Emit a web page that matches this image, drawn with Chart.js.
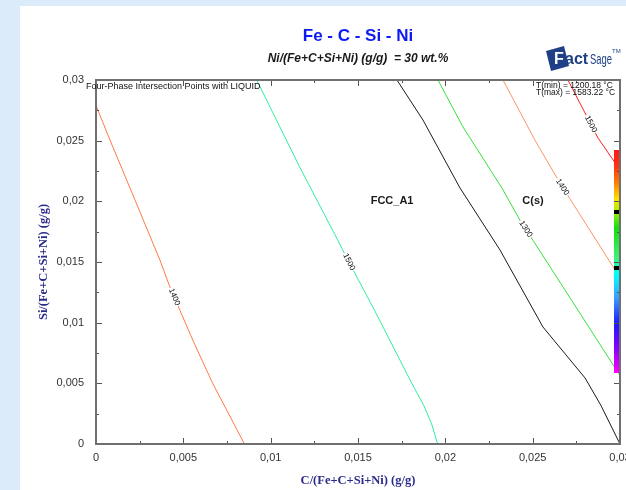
<!DOCTYPE html>
<html>
<head>
<meta charset="utf-8">
<script src="https://cdn.jsdelivr.net/npm/chart.js@4.4.0/dist/chart.umd.min.js"></script>
<style>
html, body { margin: 0; padding: 0; overflow: hidden; width: 626px; height: 490px; background: #dcebf9; }
#panel { position: absolute; left: 20px; top: 6px; width: 700px; height: 600px; background: #fff; }
#c { position: absolute; left: 0; top: 0; }
</style>
</head>
<body>
<div id="panel"></div>
<canvas id="c" width="660" height="490"></canvas>
<script>
// isotherms, C and Si mass fractions (g/g)
var iso1400aC  = [0, 0.0008, 0.00171, 0.00366, 0.00423, 0.00554, 0.00668, 0.0085];
var iso1400aSi = [0.0279, 0.02505, 0.02192, 0.01516, 0.01294, 0.00857, 0.005, 0];

var iso1500aC  = [0.0092, 0.01166, 0.01354, 0.01463, 0.01594, 0.01808, 0.01876, 0.01921, 0.01956];
var iso1500aSi = [0.03, 0.02283, 0.01764, 0.01459, 0.01104, 0.005, 0.0032, 0.00167, 0];

// FCC_A1 / C(s) boundary
var boundC  = [0.01723, 0.01872, 0.02084, 0.02313, 0.02559, 0.028, 0.0289, 0.03];
var boundSi = [0.03, 0.0267, 0.0211, 0.01599, 0.00964, 0.00544, 0.0032, 0];

var iso1300C  = [0.01958, 0.02101, 0.02324, 0.02427, 0.02943, 0.03];
var iso1300Si = [0.03, 0.02613, 0.0211, 0.01846, 0.00692, 0.00564];

var iso1400bC  = [0.0233, 0.02513, 0.02656, 0.02983, 0.03];
var iso1400bSi = [0.03, 0.02505, 0.02151, 0.01409, 0.01371];

var iso1500bC  = [0.02702, 0.02874, 0.03];
var iso1500bSi = [0.03, 0.02522, 0.02258];

// contour labels: text, position, line they sit on
var labelText = ['1400', '1500', '1300', '1400', '1500'];
var labelC    = [0.00448, 0.01448, 0.0246, 0.0267, 0.02833];
var labelSi   = [0.01212, 0.015, 0.01772, 0.02118, 0.02637];
var labelLine = [0, 1, 3, 4, 5];

// phase field names
var fieldText = ['FCC_A1', 'C(s)'];
var fieldC    = [0.01695, 0.02502];
var fieldSi   = [0.02003, 0.02003];

var axisTicks = [0, 0.005, 0.01, 0.015, 0.02, 0.025, 0.03];

function pts(cs, ss) {
    return cs.map(function (c, i) { return {x: c, y: ss[i]}; });
}

function fmt(v) {
    return parseFloat(Number(v).toFixed(4)).toString().replace('.', ',');
}

var lines = [
    {data: pts(iso1400aC, iso1400aSi), color: '#ff7a45'},
    {data: pts(iso1500aC, iso1500aSi), color: '#30ee9c'},
    {data: pts(boundC, boundSi), color: '#1a1a1a'},
    {data: pts(iso1300C, iso1300Si), color: '#38e038'},
    {data: pts(iso1400bC, iso1400bSi), color: '#ff9363'},
    {data: pts(iso1500bC, iso1500bSi), color: '#ff2020'}
];

var decor = {
    id: 'decor',
    afterDatasetsDraw: function (chart) {
        var ctx = chart.ctx, a = chart.chartArea;
        var xs = chart.scales.x, ys = chart.scales.y;
        ctx.save();

        // temperature colour bar
        var bx = a.right - 6, bt = a.top + 70, bb = a.top + 293;
        var g = ctx.createLinearGradient(0, bt, 0, bb);
        g.addColorStop(0, '#ff1a1a');
        g.addColorStop(0.07, '#ff3010');
        g.addColorStop(0.15, '#ff8000');
        g.addColorStop(0.22, '#ffe000');
        g.addColorStop(0.27, '#b0f000');
        g.addColorStop(0.35, '#10e010');
        g.addColorStop(0.48, '#40f070');
        g.addColorStop(0.56, '#00ffff');
        g.addColorStop(0.66, '#3aa0ff');
        g.addColorStop(0.78, '#1a1aff');
        g.addColorStop(0.89, '#8a00ff');
        g.addColorStop(1, '#ff00ff');
        ctx.fillStyle = g;
        ctx.fillRect(bx, bt, 5, bb - bt);
        ctx.fillStyle = '#000';
        ctx.fillRect(bx, a.top + 130, 5, 4);
        ctx.fillRect(bx, a.top + 186, 5, 4);

        // contour labels, turned along their line
        ctx.font = '8px "Liberation Sans", Arial, sans-serif';
        ctx.textAlign = 'center';
        ctx.textBaseline = 'middle';
        labelText.forEach(function (t, i) {
            var px = xs.getPixelForValue(labelC[i]);
            var py = ys.getPixelForValue(labelSi[i]);
            var d = lines[labelLine[i]].data, ang = 1.15;
            for (var k = 0; k < d.length - 1; k++) {
                if (labelSi[i] <= d[k].y && labelSi[i] >= d[k + 1].y) {
                    var dx = xs.getPixelForValue(d[k + 1].x) - xs.getPixelForValue(d[k].x);
                    var dy = ys.getPixelForValue(d[k + 1].y) - ys.getPixelForValue(d[k].y);
                    ang = Math.atan2(dy, dx);
                    break;
                }
            }
            var w = ctx.measureText(t).width;
            ctx.save();
            ctx.translate(px, py);
            ctx.rotate(ang);
            ctx.fillStyle = '#fff';
            ctx.fillRect(-w / 2 - 1, -4, w + 2, 8);
            ctx.fillStyle = '#111';
            ctx.fillText(t, 0, 0);
            ctx.restore();
        });

        // phase fields
        ctx.font = 'bold 11px "Liberation Sans", Arial, sans-serif';
        ctx.fillStyle = '#1a1a1a';
        fieldText.forEach(function (t, i) {
            ctx.fillText(t, xs.getPixelForValue(fieldC[i]), ys.getPixelForValue(fieldSi[i]));
        });

        // frame and inward ticks
        ctx.strokeStyle = '#555';
        ctx.lineWidth = 1;
        ctx.beginPath();
        for (var k = 0; k <= 12; k++) {
            var v = k * 0.0025, len = k % 2 === 0 ? 6 : 3;
            var px = Math.round(xs.getPixelForValue(v)) + 0.5;
            var py = Math.round(ys.getPixelForValue(v)) + 0.5;
            ctx.moveTo(px, a.bottom); ctx.lineTo(px, a.bottom - len);
            ctx.moveTo(px, a.top); ctx.lineTo(px, a.top + len);
            ctx.moveTo(a.left, py); ctx.lineTo(a.left + len, py);
            ctx.moveTo(a.right, py); ctx.lineTo(a.right - len, py);
        }
        ctx.stroke();
        ctx.strokeStyle = '#707070';
        ctx.lineWidth = 2;
        ctx.strokeRect(a.left, a.top, a.right - a.left, a.bottom - a.top);

        // small captions inside the frame
        ctx.fillStyle = '#111';
        ctx.textAlign = 'left';
        ctx.font = '9px "Liberation Sans", Arial, sans-serif';
        ctx.fillText('Four-Phase Intersection Points with LIQUID', a.left - 10, a.top + 7, 176);
        ctx.font = '8.5px "Liberation Sans", Arial, sans-serif';
        ctx.fillText('T(min) = 1200.18 \u00b0C', a.right - 84, a.top + 6, 79);
        ctx.fillText('T(max) = 1583.22 \u00b0C', a.right - 84, a.top + 13, 79);
        ctx.restore();
    },
    afterDraw: function (chart) {
        var ctx = chart.ctx, a = chart.chartArea;
        var cx = (a.left + a.right) / 2;
        ctx.save();
        ctx.textAlign = 'center';
        ctx.textBaseline = 'middle';
        ctx.fillStyle = '#0d1cf0';
        ctx.font = 'bold 17px "Liberation Sans", Arial, sans-serif';
        ctx.fillText('Fe - C - Si - Ni', cx, 36);
        ctx.fillStyle = '#1a1a1a';
        ctx.font = 'italic bold 12px "Liberation Sans", Arial, sans-serif';
        ctx.fillText('Ni/(Fe+C+Si+Ni) (g/g)  = 30 wt.%', cx, 59);

        // FactSage logo
        ctx.fillStyle = '#1f3f86';
        ctx.beginPath();
        ctx.moveTo(546, 51);
        ctx.lineTo(564, 46);
        ctx.lineTo(569, 66);
        ctx.lineTo(551, 71);
        ctx.closePath();
        ctx.fill();
        ctx.fillStyle = '#fff';
        ctx.font = 'bold 16px "Liberation Sans", Arial, sans-serif';
        ctx.textAlign = 'left';
        ctx.fillText('F', 554, 60);
        ctx.fillStyle = '#1f3f86';
        ctx.fillText('act', 565, 60, 24);
        ctx.font = '15px "Liberation Sans Narrow", "Liberation Sans", sans-serif';
        ctx.fillText('Sage', 590, 60, 22);
        ctx.font = '6px "Liberation Sans", sans-serif';
        ctx.fillText('TM', 612, 51);
        ctx.restore();
    }
};

var ctx = document.getElementById('c').getContext('2d');
var chart = new Chart(ctx, {
    type: 'scatter',
    data: {
        datasets: lines.map(function (l) {
            return {
                data: l.data,
                showLine: true,
                borderColor: l.color,
                borderWidth: 1,
                pointRadius: 0,
                tension: 0
            };
        })
    },
    options: {
        responsive: false,
        animation: false,
        layout: {padding: {top: 80, right: 40, bottom: 0, left: 0}},
        plugins: {legend: {display: false}, tooltip: {enabled: false}},
        scales: {
            x: {
                type: 'linear', min: 0, max: 0.03,
                afterBuildTicks: function (s) { s.ticks = axisTicks.map(function (v) { return {value: v}; }); },
                afterFit: function (s) { s.height = 46; },
                grid: {display: false, drawTicks: false},
                border: {display: false},
                ticks: {
                    callback: fmt, padding: 7, maxRotation: 0, autoSkip: false,
                    color: '#333', font: {family: '"Liberation Sans", Arial, sans-serif', size: 11}
                },
                title: {
                    display: true, text: 'C/(Fe+C+Si+Ni) (g/g)', color: '#2b2b8c',
                    font: {family: '"Liberation Serif", "Times New Roman", serif', size: 12.5, weight: 'bold'},
                    padding: {top: 0, bottom: 2}
                }
            },
            y: {
                type: 'linear', min: 0, max: 0.03,
                afterBuildTicks: function (s) { s.ticks = axisTicks.map(function (v) { return {value: v}; }); },
                afterFit: function (s) { s.width = 96; },
                grid: {display: false, drawTicks: false},
                border: {display: false},
                ticks: {
                    callback: fmt, padding: 12, autoSkip: false,
                    color: '#333', font: {family: '"Liberation Sans", Arial, sans-serif', size: 11}
                },
                title: {
                    display: true, text: 'Si/(Fe+C+Si+Ni) (g/g)', color: '#2b2b8c',
                    font: {family: '"Liberation Serif", "Times New Roman", serif', size: 12.5, weight: 'bold'},
                    padding: {top: 36, bottom: 0}
                }
            }
        }
    },
    plugins: [decor]
});
</script>
</body>
</html>
